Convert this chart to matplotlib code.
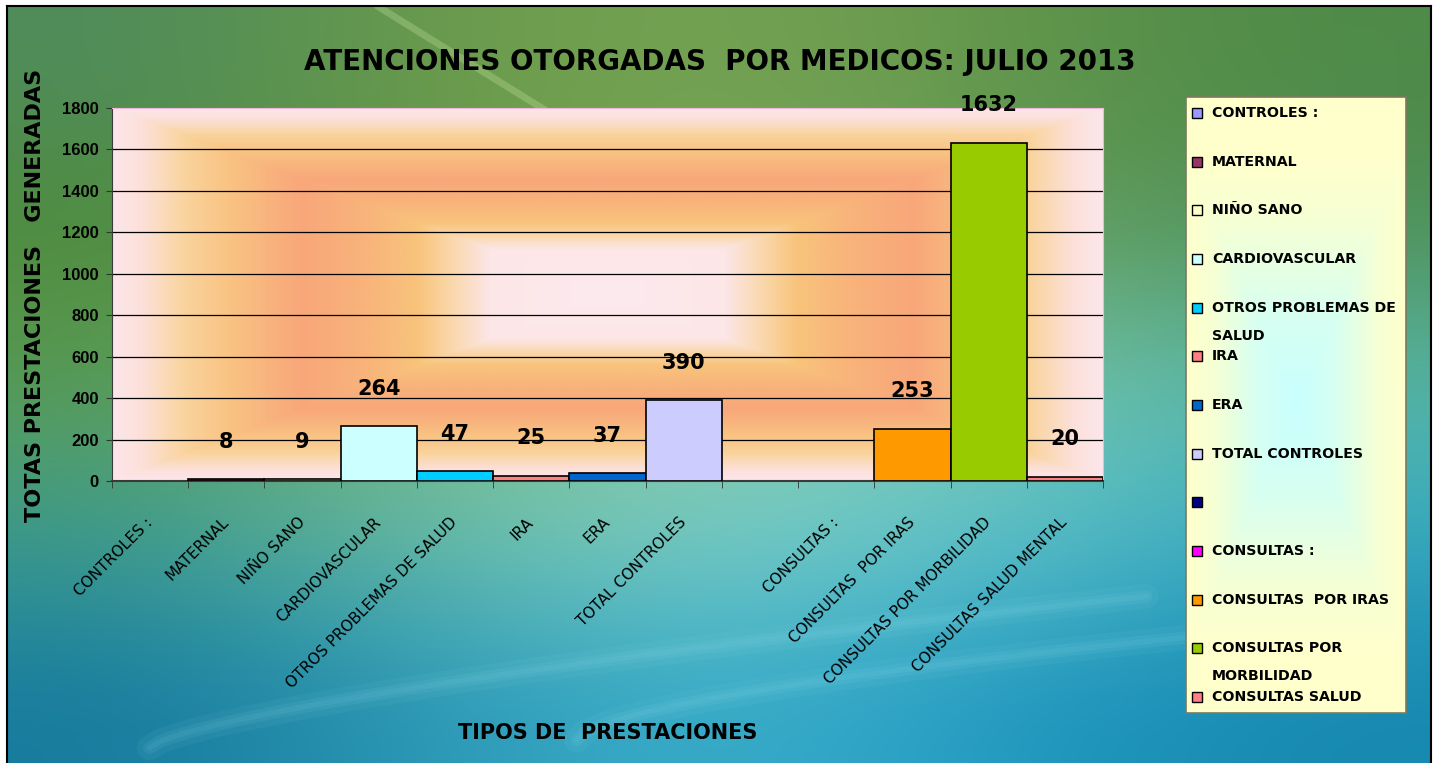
import numpy as np
import matplotlib
matplotlib.use('Agg')
import matplotlib.pyplot as plt
from matplotlib.colors import LinearSegmentedColormap, to_rgb
from matplotlib.patches import Rectangle

plt.rcParams['font.family'] = ['DejaVu Sans']

# datos del grafico
categorias = ['CONTROLES :', 'MATERNAL', 'NIÑO SANO', 'CARDIOVASCULAR',
              'OTROS PROBLEMAS DE SALUD', 'IRA', 'ERA', 'TOTAL CONTROLES', '',
              'CONSULTAS :', 'CONSULTAS  POR IRAS', 'CONSULTAS POR MORBILIDAD',
              'CONSULTAS SALUD MENTAL']
valores = [None, 8, 9, 264, 47, 25, 37, 390, None, None, 253, 1632, 20]
colores = ['#9999FF', '#993366', '#FFFFCC', '#CCFFFF', '#00CCFF', '#FF8080', '#0066CC',
           '#CCCCFF', '#000080', '#FF00FF', '#FF9900', '#99CC00', '#FF8080']
leyenda = ['CONTROLES :', 'MATERNAL', 'NIÑO SANO', 'CARDIOVASCULAR',
           'OTROS PROBLEMAS DE\nSALUD', 'IRA', 'ERA', 'TOTAL CONTROLES', '',
           'CONSULTAS :', 'CONSULTAS  POR IRAS', 'CONSULTAS POR\nMORBILIDAD',
           'CONSULTAS SALUD']
yticks = [0, 200, 400, 600, 800, 1000, 1200, 1400, 1600, 1800]

titulo = 'ATENCIONES OTORGADAS  POR MEDICOS: JULIO 2013'
xlabel = 'TIPOS DE  PRESTACIONES'
ylabel = 'TOTAS PRESTACIONES   GENERADAS'

W, H = 1440, 763
fig = plt.figure(figsize=(W / 100, H / 100), dpi=100, facecolor='white')


def fx(px):
    return px / W


def fy(py):
    return 1 - py / H


# fondo (verde arriba, turquesa/azul abajo)
bg_colors = [
    ['#4F8C5C', '#6A9A4A', '#78A455', '#62954A', '#4E8A48'],
    ['#4C8A3A', '#6A9A48', '#7CAA5A', '#66A060', '#4E9058'],
    ['#5A9A52', '#7AB87E', '#8CCCAA', '#78C8B0', '#58B8A8'],
    ['#3C9C8E', '#6EC0AA', '#80D0C8', '#60C4CC', '#34A8C0'],
    ['#167A9E', '#2A98B8', '#3AAFCC', '#2098C0', '#1688B0'],
]
bg_img = np.array([[to_rgb(c) for c in row] for row in bg_colors])
bg = fig.add_axes([fx(7), 0, fx(1431) - fx(7), fy(6)], zorder=-10)
bg.imshow(bg_img, extent=[0, 1, 0, 1], aspect='auto', interpolation='bicubic')
# reflejos claros, suaves
t = np.linspace(0, 1, 100)
bg.plot(0.26 + 0.12 * t, 1.0 - 0.14 * t, color='#C8E8A0', lw=5, alpha=0.3, solid_capstyle='round')
for lw, a in [(18, 0.06), (9, 0.08), (4, 0.08)]:
    bg.plot(0.10 + 0.70 * t, 0.02 + 0.20 * t ** 0.7, color='#9FE8F4', lw=lw, alpha=a,
            solid_capstyle='round')
    bg.plot(0.40 + 0.45 * t, 0.03 + 0.14 * t ** 0.6, color='#9FE8F4', lw=lw, alpha=a,
            solid_capstyle='round')
bg.set_xlim(0, 1)
bg.set_ylim(0, 1)
bg.set_xticks([])
bg.set_yticks([])
for s in ['left', 'top', 'right']:
    bg.spines[s].set_color('black')
    bg.spines[s].set_linewidth(1.5)
bg.spines['bottom'].set_visible(False)

# area de trazado
ax = fig.add_axes([fx(112), fy(481), fx(1103) - fx(112), fy(108) - fy(481)])
ax.set_facecolor('none')

n = len(categorias)
u = np.linspace(-1, 1, 500)
v = np.linspace(-1, 1, 250)
U, V = np.meshgrid(u, v)
D = np.maximum(np.abs(U), np.abs(V))
cmap_plot = LinearSegmentedColormap.from_list('area', [
    (0.0, '#FDEAF0'), (0.24, '#FCE6E6'), (0.32, '#FAD6A6'), (0.38, '#F8C47C'),
    (0.5, '#F8B27A'), (0.62, '#F8A77A'), (0.76, '#F9C282'), (0.86, '#FAD49E'),
    (0.94, '#FCE0D8'), (1.0, '#FDE6EC')])
ax.imshow(D, cmap=cmap_plot, vmin=0, vmax=1, extent=[-0.5, n - 0.5, 0, 1800],
          aspect='auto', zorder=0, interpolation='bilinear')

ax.hlines(yticks[1:-1], -0.5, n - 0.5, colors='black', linewidth=0.9, zorder=1)

alturas = [np.nan if val is None else val for val in valores]
ax.bar(np.arange(n), alturas, width=1.0, color=colores, edgecolor='black',
       linewidth=1.2, zorder=3)

for i, val in enumerate(valores):
    if val is not None:
        ax.annotate(str(val), (i, val), xytext=(0, 27), textcoords='offset points',
                    ha='center', va='center', fontsize=15, fontweight='bold',
                    annotation_clip=False)

ax.set_xlim(-0.5, n - 0.5)
ax.set_ylim(0, 1800)
ax.set_yticks(yticks)
ax.set_yticklabels([str(y) for y in yticks], fontfamily='Liberation Sans',
                   fontweight='bold', fontsize=12)
ax.set_xticks(np.arange(n))
ax.set_xticklabels(categorias, rotation=45, ha='right', va='center',
                   rotation_mode='anchor', fontsize=11)
ax.set_xticks(np.arange(-0.5, n, 1), minor=True)
ax.tick_params(axis='x', which='major', length=0, pad=28)
ax.tick_params(axis='x', which='minor', length=5, color='#333333')
ax.tick_params(axis='y', length=4.5, color='#333333', pad=5)

ax.spines['left'].set_color('#3A3A3A')
ax.spines['bottom'].set_color('#3A3A3A')
ax.spines['bottom'].set_linewidth(1.5)
for s in ['top', 'right']:
    ax.spines[s].set_color('#F2B8D8')

# textos
fig.text(fx(720), fy(62), titulo, ha='center', va='center', fontsize=20, fontweight='bold')
fig.text(fx(608), fy(733), xlabel, ha='center', va='center', fontsize=15, fontweight='bold')
fig.text(fx(35), fy(295), ylabel, ha='center', va='center', rotation=90,
         fontsize=16, fontweight='bold')

# leyenda
lg_w, lg_h = 220, 616
lg = fig.add_axes([fx(1186), fy(713), fx(1406) - fx(1186), fy(97) - fy(713)])
lu = np.linspace(-1, 1, 200)
lv = np.linspace(-1, 1, 400)
LU, LV = np.meshgrid(lu, lv)
LD = np.maximum(np.abs(LU) * 0.8, np.abs(LV))
cmap_lg = LinearSegmentedColormap.from_list('ley', [
    (0.0, '#C8FFFF'), (0.3, '#D8FFF0'), (0.6, '#F6FFD4'), (0.8, '#FFFFCC'), (1.0, '#FFFFCC')])
lg.imshow(LD, cmap=cmap_lg, vmin=0, vmax=1, extent=[0, lg_w, lg_h, 0],
          aspect='auto', interpolation='bilinear')
lg.set_xlim(0, lg_w)
lg.set_ylim(lg_h, 0)
lg.set_xticks([])
lg.set_yticks([])
for s in lg.spines.values():
    s.set_color('#7A7A60')
    s.set_linewidth(1.2)

paso = (697 - 113) / (len(leyenda) - 1)
for k, (lab, col) in enumerate(zip(leyenda, colores)):
    yc = 16 + k * paso
    lg.add_patch(Rectangle((6, yc - 5), 10, 10, facecolor=col, edgecolor='black', lw=1))
    for j, linea in enumerate(lab.split('\n')):
        lg.text(26, yc + 28 * j, linea, ha='left', va='center', fontsize=10.2,
                fontweight='bold')

plt.savefig('out.png', dpi=100)
